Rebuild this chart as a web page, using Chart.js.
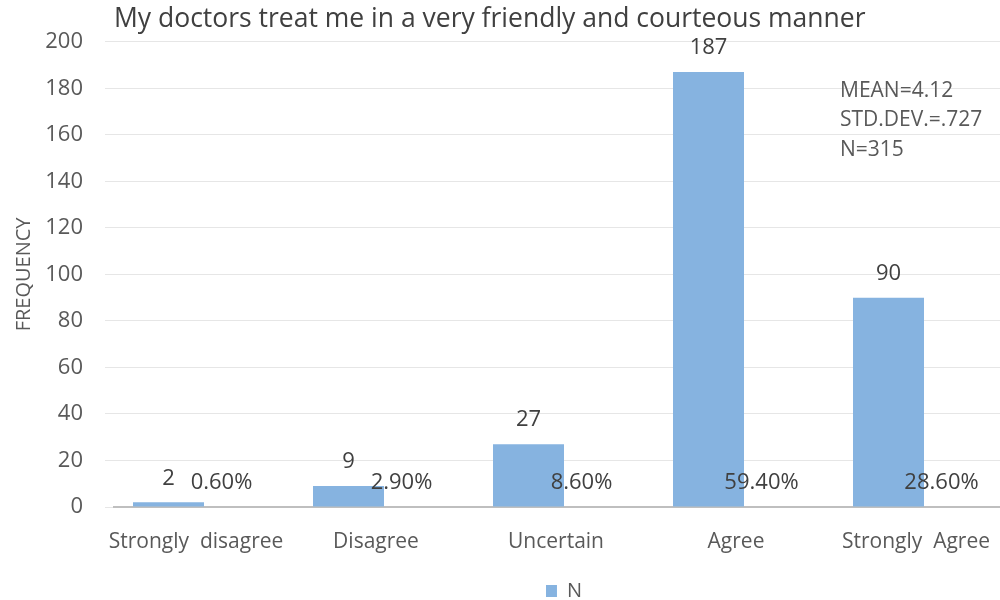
<!DOCTYPE html>
<html>
<head>
<meta charset="utf-8">
<title>My doctors treat me in a very friendly and courteous manner</title>
<script src="https://cdn.jsdelivr.net/npm/chart.js@4.4.1/dist/chart.umd.min.js"></script>
<style>
  html, body { margin: 0; padding: 0; background: #ffffff; overflow: hidden; }
  #wrap { width: 1000px; height: 600px; overflow: hidden; }
  canvas { display: block; }
</style>
</head>
<body>
<div id="wrap"><canvas id="chart" width="1020" height="611"></canvas></div>
<script>
// Survey item and response counts
const chartTitle = 'My doctors treat me in a very friendly and courteous manner';
const categories = ['Strongly  disagree', 'Disagree', 'Uncertain', 'Agree', 'Strongly  Agree'];
const frequency = [2, 9, 27, 187, 90];
const percentShare = [0.6, 2.9, 8.6, 59.4, 28.6];
const summaryLines = ['MEAN=4.12', 'STD.DEV.=.727', 'N=315'];
const yMin = 0;
const yMax = 200;
const yStep = 20;

const FONT = "'Open Sans', 'DejaVu Sans', sans-serif";
const TEXT_GREY = '#595959';
const LABEL_DARK = '#404040';
const BAR_BLUE = '#86b3e0';

// Value labels above the N bars, percentage labels beside them, and the summary block
const labelPlugin = {
  id: 'valueLabels',
  afterDatasetsDraw(chart) {
    const ctx = chart.ctx;
    ctx.save();
    ctx.font = `22px ${FONT}`;
    ctx.fillStyle = LABEL_DARK;
    ctx.textAlign = 'center';
    ctx.textBaseline = 'middle';

    const nMeta = chart.getDatasetMeta(0);
    nMeta.data.forEach((bar, i) => {
      ctx.fillText(String(frequency[i]), bar.x, bar.y - 24);
    });

    const pMeta = chart.getDatasetMeta(1);
    pMeta.data.forEach((bar, i) => {
      ctx.fillText(percentShare[i].toFixed(2) + '%', bar.x - 18, bar.base - 24);
    });

    ctx.font = `21px ${FONT}`;
    ctx.fillStyle = TEXT_GREY;
    ctx.textAlign = 'left';
    summaryLines.forEach((line, i) => {
      ctx.fillText(line, 840, 91 + i * 29.5);
    });
    ctx.restore();
  }
};

new Chart(document.getElementById('chart'), {
  type: 'bar',
  data: {
    labels: categories,
    datasets: [
      {
        label: 'N',
        data: frequency,
        backgroundColor: BAR_BLUE,
        borderWidth: 0,
        yAxisID: 'y'
      },
      {
        label: '%',
        data: percentShare,
        backgroundColor: 'rgba(0,0,0,0)',
        borderWidth: 0,
        yAxisID: 'yPct'
      }
    ]
  },
  options: {
    responsive: false,
    animation: false,
    events: [],
    datasets: {
      bar: { categoryPercentage: 142 / 180, barPercentage: 1.0 }
    },
    layout: { padding: { top: 0, right: 6, bottom: 0, left: 0 } },
    scales: {
      x: {
        afterFit(scale) { scale.height = 72; },
        grid: { display: false },
        border: { display: true, color: '#bfbfbf', width: 2 },
        ticks: {
          font: { family: FONT, size: 21 },
          color: TEXT_GREY,
          padding: 14,
          labelOffset: -8,
          maxRotation: 0,
          autoSkip: false
        }
      },
      y: {
        min: yMin,
        max: yMax,
        afterFit(scale) { scale.width = 114; },
        ticks: {
          stepSize: yStep,
          font: { family: FONT, size: 22 },
          color: TEXT_GREY,
          padding: 22
        },
        grid: { color: '#e6e6e6', lineWidth: 1, tickLength: 9, drawTicks: true },
        border: { display: false },
        title: {
          display: true,
          text: 'FREQUENCY',
          font: { family: FONT, size: 20 },
          color: TEXT_GREY,
          padding: { top: 12, bottom: 0 }
        }
      },
      yPct: {
        display: false,
        min: 0,
        max: 100
      }
    },
    plugins: {
      title: {
        display: true,
        text: chartTitle,
        fullSize: false,
        align: 'start',
        color: LABEL_DARK,
        font: { family: FONT, size: 26.5, weight: 'normal' },
        padding: { top: 4, bottom: 6 }
      },
      legend: {
        position: 'bottom',
        fullSize: false,
        labels: {
          filter: (item) => item.text === 'N',
          boxWidth: 11,
          boxHeight: 12,
          color: TEXT_GREY,
          font: { family: FONT, size: 20 },
          padding: 2
        }
      },
      tooltip: { enabled: false }
    }
  },
  plugins: [labelPlugin]
});
</script>
</body>
</html>
